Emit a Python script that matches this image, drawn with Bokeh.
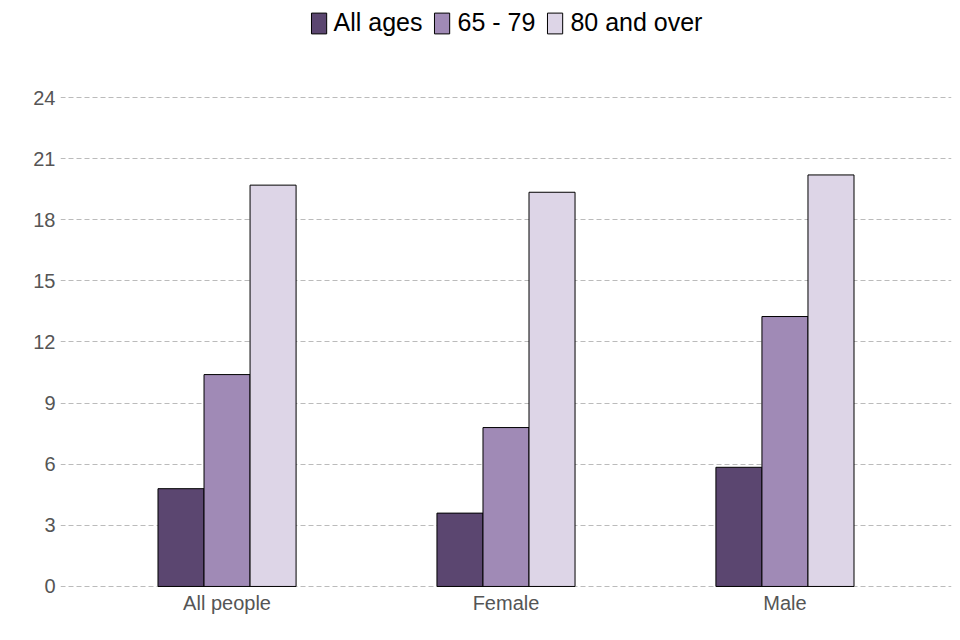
from bokeh.plotting import figure
from bokeh.models import ColumnDataSource, FactorRange, Range1d, FixedTicker, Legend, LegendItem
from bokeh.transform import dodge
from bokeh.embed import file_html
from bokeh.resources import INLINE

categories = ["All people", "Female", "Male"]
series_names = ["All ages", "65 - 79", "80 and over"]
all_ages = [4.8, 3.6, 5.85]
age_65_79 = [10.4, 7.8, 13.25]
age_80_over = [19.7, 19.35, 20.2]
y_ticks = [0, 3, 6, 9, 12, 15, 18, 21, 24]

colors = ["#5b4670", "#a08ab6", "#ddd5e7"]
FONT = "Liberation Sans"

source = ColumnDataSource(data=dict(cat=categories, a=all_ages, b=age_65_79, c=age_80_over))

p = figure(
    x_range=FactorRange(*categories, range_padding=0.097, range_padding_units="absolute"),
    y_range=Range1d(-0.1, 28.37),
    width=952, height=632,
    output_backend="svg", toolbar_location=None,
    min_border_left=60, min_border_right=1, min_border_top=8, min_border_bottom=44,
)

bw = 0.165
renderers = []
for key, off, col in zip(["a", "b", "c"], [-bw, 0.0, bw], colors):
    r = p.vbar(x=dodge("cat", off, range=p.x_range), top=key, width=bw, source=source,
               fill_color=col, line_color="black", line_width=1)
    renderers.append(r)

legend = Legend(
    items=[LegendItem(label=n, renderers=[r]) for n, r in zip(series_names, renderers)],
    orientation="horizontal", location="top_center",
    label_text_font=FONT, label_text_font_size="25px", label_text_color="black",
    glyph_width=19, glyph_height=26, label_height=26, label_standoff=6, spacing=10,
    padding=0, margin=0, border_line_color=None, background_fill_alpha=0,
)
p.add_layout(legend)

p.outline_line_color = None
p.xgrid.grid_line_color = None
p.ygrid.grid_line_color = "#bbbbbb"
p.ygrid.grid_line_dash = "5 3"
p.ygrid.grid_line_width = 1
p.yaxis.ticker = FixedTicker(ticks=y_ticks)

for ax in (p.xaxis, p.yaxis):
    ax.axis_line_color = None
    ax.major_tick_line_color = None
    ax.minor_tick_line_color = None
    ax.major_tick_out = 0
    ax.major_tick_in = 0
    ax.major_label_text_font = FONT
    ax.major_label_text_font_size = "20px"
    ax.major_label_text_color = "#555555"

p.xaxis.major_label_standoff = 3
p.yaxis.major_label_standoff = 5

open("out.html", "w").write(file_html(p, INLINE))
